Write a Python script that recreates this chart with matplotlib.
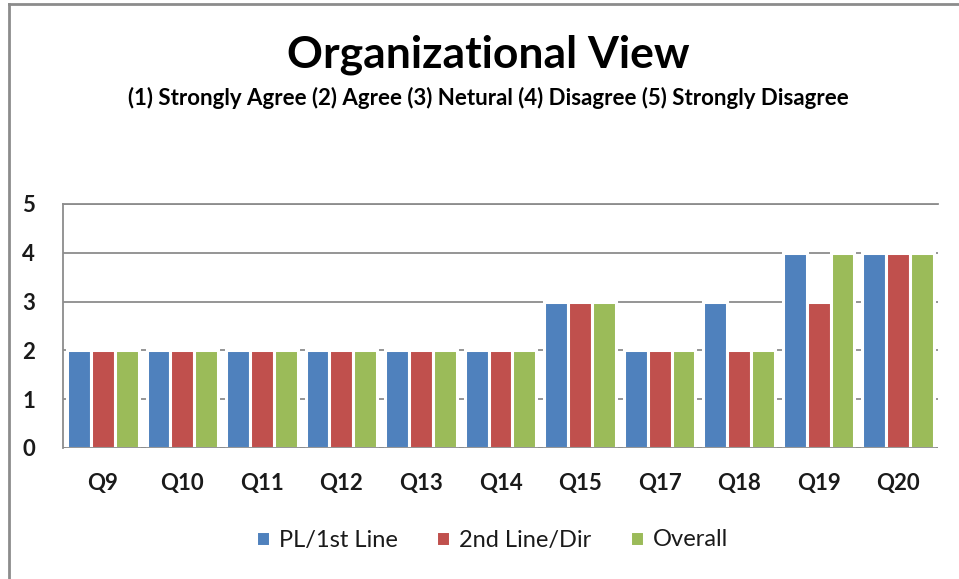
import numpy as np
import matplotlib.pyplot as plt
from matplotlib.lines import Line2D

questions = ["Q9", "Q10", "Q11", "Q12", "Q13", "Q14", "Q15", "Q17", "Q18", "Q19", "Q20"]
pl_1st_line = [2, 2, 2, 2, 2, 2, 3, 2, 3, 4, 4]
line2_dir = [2, 2, 2, 2, 2, 2, 3, 2, 2, 3, 4]
overall = [2, 2, 2, 2, 2, 2, 3, 2, 2, 4, 4]

series_names = ["PL/1st Line", "2nd Line/Dir", "Overall"]
colors = ["#4F81BD", "#C0504D", "#9BBB59"]

plt.rcParams['font.family'] = ['Lato', 'DejaVu Sans']

fig = plt.figure(figsize=(9.59, 5.79), dpi=100)
ax = fig.add_axes([63/959, 1-448/579, 875/959, 244/579])

x = np.arange(len(questions))
w = 0.3
for i, (vals, name, c) in enumerate(zip([pl_1st_line, line2_dir, overall], series_names, colors)):
    ax.bar(x + (i - 1) * w, vals, w, color=c, edgecolor="white", linewidth=2.2,
           label=name, zorder=3)

ax.set_xlim(-0.5, len(questions) - 0.5)
ax.set_ylim(0, 5)
ax.set_yticks(range(6))
ax.set_xticks(x)
ax.set_xticklabels(questions)
ax.yaxis.grid(True, color="#8c8c8c", linewidth=1.3, zorder=0)
ax.tick_params(axis="both", length=0, labelsize=16, colors="#1a1a1a")
ax.tick_params(axis="y", pad=20)
ax.tick_params(axis="x", pad=18)
for lab in ax.get_yticklabels() + ax.get_xticklabels():
    lab.set_fontweight("bold")
for s in ["right", "bottom"]:
    ax.spines[s].set_visible(False)
for s in ["left", "top"]:
    ax.spines[s].set_color("#8c8c8c")
    ax.spines[s].set_linewidth(1.3)
ax.axhline(0, color="#8c8c8c", linewidth=1.3, zorder=4)

fig.text(488/959, 1-55/579, "Organizational View", ha="center", va="center",
         fontsize=32, fontweight="bold", color="black")
fig.text(488/959, 1-98/579,
         "(1) Strongly Agree (2) Agree (3) Netural (4) Disagree (5) Strongly Disagree",
         ha="center", va="center", fontsize=16, fontweight="bold", color="black")

leg = fig.legend(loc="center", bbox_to_anchor=(492/959, 1-540/579), ncol=3,
                 frameon=False, fontsize=17, handlelength=0.6, handleheight=0.6,
                 handletextpad=0.4, columnspacing=1.6)
for t in leg.get_texts():
    t.set_color("#1a1a1a")

# outer chart border (left and top only visible)
fig.add_artist(Line2D([8.5/959, 8.5/959], [0, 1-4/579], color="#8c8c8c", linewidth=2,
                      transform=fig.transFigure))
fig.add_artist(Line2D([8.5/959, 1], [1-4/579, 1-4/579], color="#8c8c8c", linewidth=2,
                      transform=fig.transFigure))

fig.savefig("out.png", dpi=100)
